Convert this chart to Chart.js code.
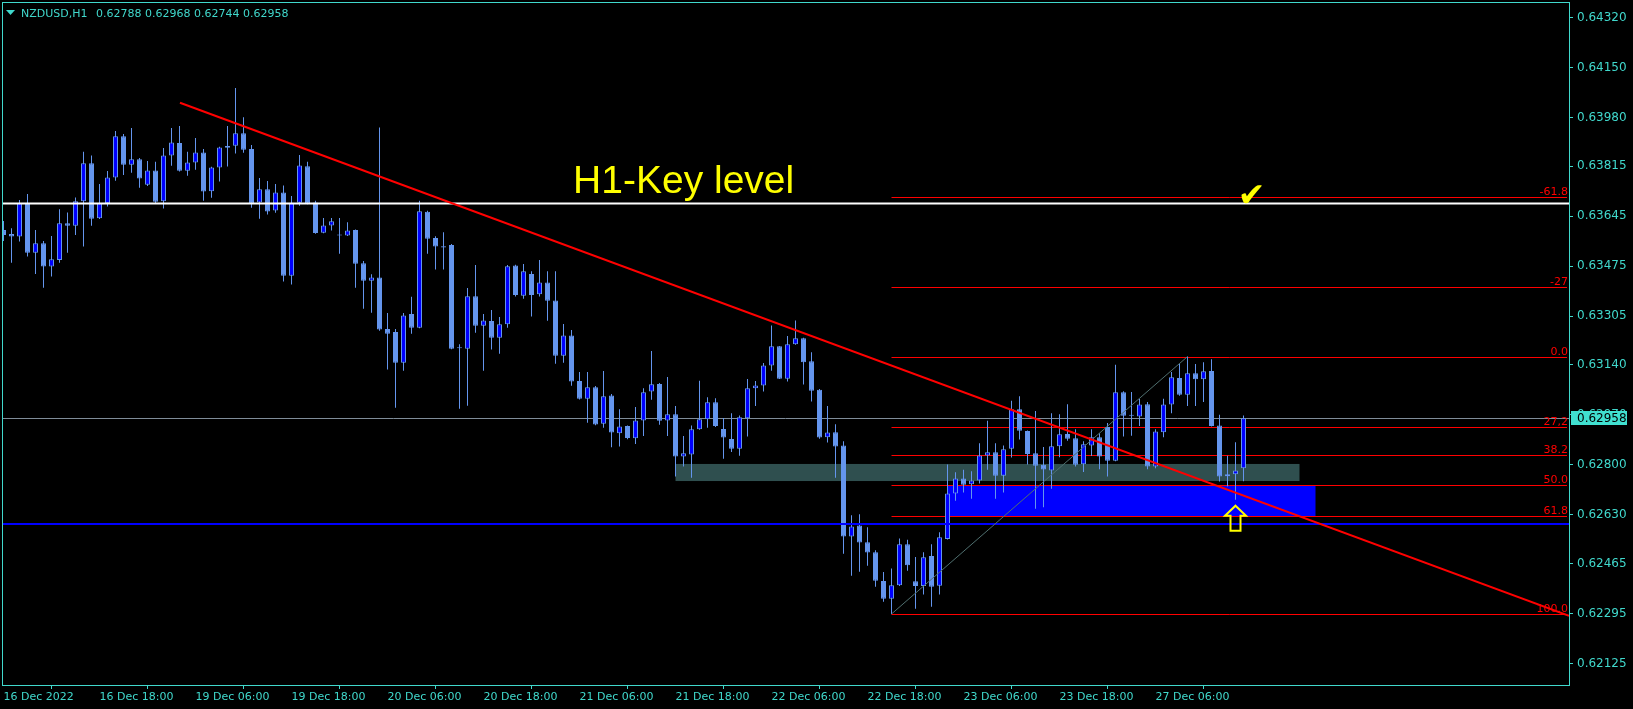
<!DOCTYPE html>
<html>
<head>
<meta charset="utf-8">
<style>
  html, body { margin: 0; padding: 0; background: #000; }
</style>
<script src="https://cdn.jsdelivr.net/npm/chart.js@4.4.0/dist/chart.umd.min.js"></script>
</head>
<body>
<canvas id="priceChart" width="1633" height="709"></canvas>
<script>
// NZDUSD H1 candles, bar 0 = 16 Dec 06:00
const opens = [
  0.63598, 0.63585, 0.63576, 0.63687, 0.63521, 0.63553, 0.63474, 0.63496, 0.63621, 0.63613,
  0.63696, 0.63825, 0.63638, 0.63689, 0.63777, 0.63917, 0.63820, 0.63839, 0.63752, 0.63801,
  0.63696, 0.63852, 0.63894, 0.63800, 0.63828, 0.63862, 0.63730, 0.63811, 0.63884, 0.63885,
  0.63927, 0.63874, 0.63692, 0.63737, 0.63665, 0.63726, 0.63443, 0.63691, 0.63815, 0.63692,
  0.63589, 0.63614, 0.63580, 0.63580, 0.63598, 0.63485, 0.63426, 0.63437, 0.63262, 0.63252,
  0.63147, 0.63313, 0.63266, 0.63660, 0.63571, 0.63543, 0.63547, 0.63196, 0.63195, 0.63373,
  0.63273, 0.63289, 0.63232, 0.63278, 0.63478, 0.63375, 0.63449, 0.63380, 0.63420, 0.63359,
  0.63171, 0.63240, 0.63085, 0.63025, 0.63064, 0.62940, 0.63036, 0.62907, 0.62932, 0.62890,
  0.62951, 0.63049, 0.63075, 0.62951, 0.62972, 0.62828, 0.62835, 0.62921, 0.62955, 0.63013,
  0.62922, 0.62888, 0.62855, 0.62958, 0.63060, 0.63070, 0.63138, 0.63203, 0.63093, 0.63210,
  0.63230, 0.63152, 0.63055, 0.62894, 0.62911, 0.62866, 0.62556, 0.62594, 0.62537, 0.62503,
  0.62405, 0.62345, 0.62391, 0.62530, 0.62404, 0.62388, 0.62490, 0.62389, 0.62548, 0.62703,
  0.62754, 0.62734, 0.62747, 0.62832, 0.62843, 0.62763, 0.62855, 0.62989, 0.62915, 0.62839,
  0.62800, 0.62781, 0.62863, 0.62905, 0.62890, 0.62802, 0.62866, 0.62894, 0.62929, 0.62814,
  0.63047, 0.62967, 0.62964, 0.63006, 0.62794, 0.62911, 0.63005, 0.63095, 0.63038, 0.63111,
  0.63091, 0.63119, 0.62934, 0.62761, 0.62768, 0.62788
];
const highs = [
  0.63629, 0.63604, 0.63700, 0.63721, 0.63598, 0.63561, 0.63578, 0.63669, 0.63658, 0.63709,
  0.63864, 0.63852, 0.63755, 0.63799, 0.63935, 0.63925, 0.63945, 0.63843, 0.63833, 0.63830,
  0.63877, 0.63945, 0.63952, 0.63864, 0.63911, 0.63874, 0.63813, 0.63881, 0.63952, 0.64081,
  0.63982, 0.63887, 0.63775, 0.63765, 0.63755, 0.63750, 0.63714, 0.63853, 0.63830, 0.63698,
  0.63639, 0.63639, 0.63639, 0.63625, 0.63600, 0.63493, 0.63448, 0.63947, 0.63316, 0.63262,
  0.63316, 0.63371, 0.63698, 0.63664, 0.63577, 0.63591, 0.63551, 0.63210, 0.63401, 0.63479,
  0.63313, 0.63326, 0.63303, 0.63479, 0.63480, 0.63483, 0.63458, 0.63496, 0.63458, 0.63458,
  0.63279, 0.63258, 0.63116, 0.63116, 0.63068, 0.63119, 0.63041, 0.62989, 0.62934, 0.62997,
  0.63060, 0.63187, 0.63078, 0.63099, 0.63000, 0.62898, 0.62934, 0.63086, 0.63030, 0.63026,
  0.62959, 0.62975, 0.62968, 0.63092, 0.63085, 0.63146, 0.63274, 0.63204, 0.63238, 0.63291,
  0.63232, 0.63183, 0.63058, 0.63000, 0.62938, 0.62880, 0.62629, 0.62632, 0.62588, 0.62510,
  0.62436, 0.62448, 0.62550, 0.62545, 0.62487, 0.62503, 0.62530, 0.62571, 0.62801, 0.62775,
  0.62783, 0.62778, 0.62873, 0.62950, 0.62873, 0.62866, 0.63018, 0.63033, 0.62917, 0.62983,
  0.62861, 0.62975, 0.62972, 0.63006, 0.62921, 0.62880, 0.62921, 0.62907, 0.62942, 0.63140,
  0.63050, 0.63048, 0.63024, 0.63014, 0.62921, 0.63025, 0.63116, 0.63143, 0.63168, 0.63143,
  0.63149, 0.63159, 0.62970, 0.62831, 0.62877, 0.62968
];
const lows = [
  0.63561, 0.63487, 0.63559, 0.63508, 0.63449, 0.63402, 0.63440, 0.63487, 0.63521, 0.63581,
  0.63542, 0.63613, 0.63636, 0.63678, 0.63766, 0.63785, 0.63793, 0.63742, 0.63748, 0.63688,
  0.63671, 0.63817, 0.63797, 0.63783, 0.63803, 0.63698, 0.63708, 0.63763, 0.63814, 0.63858,
  0.63861, 0.63674, 0.63637, 0.63651, 0.63657, 0.63423, 0.63413, 0.63681, 0.63686, 0.63586,
  0.63587, 0.63597, 0.63518, 0.63578, 0.63402, 0.63331, 0.63317, 0.63256, 0.63124, 0.62994,
  0.63120, 0.63246, 0.63264, 0.63518, 0.63464, 0.63464, 0.63193, 0.62991, 0.63001, 0.63249,
  0.63120, 0.63192, 0.63178, 0.63266, 0.63372, 0.63365, 0.63304, 0.63372, 0.63290, 0.63144,
  0.63147, 0.63069, 0.63022, 0.62943, 0.62935, 0.62926, 0.62860, 0.62862, 0.62887, 0.62871,
  0.62898, 0.63021, 0.62936, 0.62898, 0.62760, 0.62794, 0.62756, 0.62919, 0.62926, 0.62929,
  0.62821, 0.62844, 0.62831, 0.62896, 0.63000, 0.63049, 0.63120, 0.63092, 0.63083, 0.63208,
  0.63073, 0.63015, 0.62889, 0.62876, 0.62756, 0.62498, 0.62423, 0.62437, 0.62457, 0.62386,
  0.62335, 0.62293, 0.62388, 0.62440, 0.62311, 0.62359, 0.62318, 0.62359, 0.62546, 0.62678,
  0.62706, 0.62685, 0.62737, 0.62783, 0.62685, 0.62706, 0.62825, 0.62886, 0.62801, 0.62651,
  0.62656, 0.62719, 0.62826, 0.62882, 0.62794, 0.62776, 0.62830, 0.62785, 0.62760, 0.62812,
  0.62896, 0.62899, 0.62932, 0.62785, 0.62788, 0.62894, 0.62975, 0.63035, 0.63000, 0.63000,
  0.63014, 0.62930, 0.62743, 0.62726, 0.62681, 0.62744
];
const closes = [
  0.63581, 0.63576, 0.63689, 0.63521, 0.63553, 0.63474, 0.63499, 0.63621, 0.63613, 0.63696,
  0.63825, 0.63637, 0.63689, 0.63777, 0.63917, 0.63820, 0.63839, 0.63773, 0.63801, 0.63694,
  0.63852, 0.63896, 0.63800, 0.63828, 0.63862, 0.63729, 0.63811, 0.63879, 0.63878, 0.63927,
  0.63871, 0.63689, 0.63737, 0.63661, 0.63726, 0.63443, 0.63691, 0.63818, 0.63689, 0.63588,
  0.63614, 0.63628, 0.63580, 0.63597, 0.63484, 0.63426, 0.63437, 0.63260, 0.63246, 0.63147,
  0.63308, 0.63266, 0.63662, 0.63569, 0.63542, 0.63539, 0.63195, 0.63196, 0.63373, 0.63273,
  0.63291, 0.63232, 0.63278, 0.63475, 0.63377, 0.63458, 0.63377, 0.63420, 0.63358, 0.63171,
  0.63240, 0.63083, 0.63025, 0.63064, 0.62937, 0.63033, 0.62910, 0.62930, 0.62891, 0.62951,
  0.63047, 0.63074, 0.62950, 0.62972, 0.62828, 0.62839, 0.62921, 0.62955, 0.63013, 0.62932,
  0.62893, 0.62855, 0.62962, 0.63060, 0.63070, 0.63138, 0.63203, 0.63093, 0.63210, 0.63230,
  0.63149, 0.63052, 0.62893, 0.62910, 0.62862, 0.62556, 0.62590, 0.62536, 0.62502, 0.62406,
  0.62345, 0.62391, 0.62530, 0.62459, 0.62388, 0.62486, 0.62386, 0.62554, 0.62703, 0.62754,
  0.62732, 0.62747, 0.62832, 0.62843, 0.62763, 0.62853, 0.62989, 0.62916, 0.62837, 0.62797,
  0.62784, 0.62863, 0.62904, 0.62889, 0.62800, 0.62870, 0.62894, 0.62828, 0.62814, 0.63047,
  0.62967, 0.62967, 0.63005, 0.62794, 0.62913, 0.63005, 0.63098, 0.63038, 0.63111, 0.63091,
  0.63118, 0.62932, 0.62760, 0.62768, 0.62781, 0.62958
];

const timeTickBars = [0, 12, 24, 36, 48, 60, 72, 84, 96, 108, 120, 132, 144];
const timeLabels = ['16 Dec 2022', '16 Dec 18:00', '19 Dec 06:00', '19 Dec 18:00', '20 Dec 06:00',
  '20 Dec 18:00', '21 Dec 06:00', '21 Dec 18:00', '22 Dec 06:00', '22 Dec 18:00',
  '23 Dec 06:00', '23 Dec 18:00', '27 Dec 06:00'];
const priceTicks = [0.64320, 0.64150, 0.63980, 0.63815, 0.63645, 0.63475, 0.63305,
  0.63140, 0.62970, 0.62800, 0.62630, 0.62465, 0.62295, 0.62125];

const symbolName = 'NZDUSD,H1';
const lastBar = ['0.62788', '0.62968', '0.62744', '0.62958'];
const bidPrice = 0.62958;

// drawn objects
const keyLevel = 0.63688;
const lowerLevel = 0.62599;
const trendBars = [22.06, 195.69];
const trendPrices = [0.64031, 0.62287];
const fibBars = [111, 148];
const fibPrices = [0.62293, 0.63168];
const fibLevels = [0.63709, 0.63406, 0.63168, 0.62930, 0.62834, 0.62731, 0.62627, 0.62293];
const fibNames = ['-61.8', '-27', '0.0', '27,2', '38.2', '50.0', '61.8', '100.0'];
const zoneStart = [84, 118];
const zoneEnd = [162, 164];
const zoneHigh = [0.62803, 0.62729];
const zoneLow = [0.62745, 0.62626];
const keyText = 'H1-Key level';
const keyTextAt = { bar: 71.2, price: 0.63724 };
const arrowAt = { bar: 154, price: 0.62661 };
const checkAt = { bar: 156.0, price: 0.63710 };

const X_MIN = -0.1875, X_MAX = 195.6875;
const Y_MIN = 0.620516, Y_MAX = 0.643734;

const teal = '#40d8cc';
const bullFill = '#0000ff';
const bearFill = '#6495ed';
const zoneColors = ['#2f4f4f', '#0000ff'];

Chart.defaults.font.family = '"DejaVu Sans", sans-serif';
Chart.defaults.font.size = 11;

function hLine(price, color, width, x0, x1, order) {
  return {
    type: 'line',
    data: [{ x: x0, y: price }, { x: x1, y: price }],
    borderColor: color,
    borderWidth: width,
    pointRadius: 0,
    order: order
  };
}

const datasets = [
  {
    type: 'line',
    data: trendBars.map((b, i) => ({ x: b, y: trendPrices[i] })),
    borderColor: '#ff0000', borderWidth: 2, pointRadius: 0, order: 0
  },
  {
    type: 'line',
    data: fibBars.map((b, i) => ({ x: b, y: fibPrices[i] })),
    borderColor: '#4f6f6f', borderWidth: 1, pointRadius: 0, order: 1
  },
  hLine(keyLevel, '#ffffff', 2, X_MIN, X_MAX, 1),
  hLine(lowerLevel, '#0000ff', 2, X_MIN, X_MAX, 1),
  {
    type: 'bar',
    data: opens.map((o, i) => ({ x: i, y: [o, closes[i]] })),
    backgroundColor: opens.map((o, i) => closes[i] > o ? bullFill : bearFill),
    borderColor: bearFill,
    borderWidth: 1,
    borderSkipped: false,
    barThickness: 5,
    minBarLength: 1,
    inflateAmount: 0,
    grouped: false,
    order: 5
  },
  {
    type: 'bar',
    data: highs.map((h, i) => ({ x: i, y: [lows[i], h] })),
    backgroundColor: bearFill,
    borderWidth: 0,
    barThickness: 1,
    inflateAmount: 0,
    grouped: false,
    order: 6
  }
];

// thin 1px horizontals, snapped to the pixel grid so they stay crisp
function crispHLine(ctx, y, x0, x1, color) {
  const py = Math.round(y) + 0.5;
  ctx.strokeStyle = color;
  ctx.lineWidth = 1;
  ctx.beginPath();
  ctx.moveTo(x0, py);
  ctx.lineTo(x1, py);
  ctx.stroke();
}

const overlay = {
  id: 'overlay',
  beforeDraw(chart) {
    const ctx = chart.ctx;
    ctx.save();
    ctx.fillStyle = '#000';
    ctx.fillRect(0, 0, chart.width, chart.height);
    ctx.restore();
  },
  beforeDatasetsDraw(chart) {
    const { ctx, chartArea: a, scales: { x, y } } = chart;
    ctx.save();
    ctx.beginPath();
    ctx.rect(a.left, a.top, a.right - a.left, a.bottom - a.top);
    ctx.clip();
    zoneStart.forEach((s, i) => {
      const x0 = x.getPixelForValue(s), x1 = x.getPixelForValue(zoneEnd[i]);
      const y0 = y.getPixelForValue(zoneHigh[i]), y1 = y.getPixelForValue(zoneLow[i]);
      ctx.fillStyle = zoneColors[i];
      ctx.fillRect(x0, y0, x1 - x0, y1 - y0);
    });
    crispHLine(ctx, y.getPixelForValue(bidPrice), a.left, a.right, '#7f8c99');
    const fx = x.getPixelForValue(fibBars[0]);
    fibLevels.forEach(lv => crispHLine(ctx, y.getPixelForValue(lv), fx, a.right - 2, '#ff0000'));
    ctx.restore();
  },
  afterDatasetsDraw(chart) {
    const { ctx, chartArea: a, scales: { x, y } } = chart;
    ctx.save();
    // fibo level captions
    ctx.font = '11px "DejaVu Sans"';
    ctx.fillStyle = '#ff0000';
    ctx.textAlign = 'right';
    ctx.textBaseline = 'alphabetic';
    fibLevels.forEach((lv, i) => {
      ctx.fillText(fibNames[i], a.right - 1, Math.round(y.getPixelForValue(lv)) - 2);
    });

    // key level text
    ctx.font = '39px "Liberation Sans", Arial, sans-serif';
    ctx.fillStyle = '#ffff00';
    ctx.textAlign = 'left';
    ctx.fillText(keyText, x.getPixelForValue(keyTextAt.bar), y.getPixelForValue(keyTextAt.price));

    // up arrow (hollow)
    const ax = x.getPixelForValue(arrowAt.bar), ay = y.getPixelForValue(arrowAt.price);
    ctx.beginPath();
    ctx.moveTo(ax, ay);
    ctx.lineTo(ax + 10.5, ay + 10);
    ctx.lineTo(ax + 5, ay + 10);
    ctx.lineTo(ax + 5, ay + 25);
    ctx.lineTo(ax - 5, ay + 25);
    ctx.lineTo(ax - 5, ay + 10);
    ctx.lineTo(ax - 10.5, ay + 10);
    ctx.closePath();
    ctx.strokeStyle = '#ffff00';
    ctx.lineWidth = 2;
    ctx.stroke();

    // check mark
    ctx.font = '33px "DejaVu Sans"';
    ctx.textAlign = 'center';
    ctx.textBaseline = 'middle';
    ctx.fillStyle = '#ffff00';
    ctx.fillText('\u2714', x.getPixelForValue(checkAt.bar), y.getPixelForValue(checkAt.price));
    ctx.restore();
  },
  afterDraw(chart) {
    const { ctx, chartArea: a, scales: { y } } = chart;
    ctx.save();
    ctx.strokeStyle = teal;
    ctx.lineWidth = 1;
    ctx.strokeRect(a.left + 0.5, a.top + 0.5, a.right - a.left, a.bottom - a.top);

    // header
    ctx.fillStyle = teal;
    ctx.beginPath();
    ctx.moveTo(6, 10);
    ctx.lineTo(15, 10);
    ctx.lineTo(10.5, 15);
    ctx.closePath();
    ctx.fill();
    ctx.font = '11px "DejaVu Sans"';
    ctx.textAlign = 'left';
    ctx.textBaseline = 'alphabetic';
    ctx.fillText(symbolName, 21, 17);
    ctx.fillText(lastBar.join(' '), 96, 17);

    // bid price box
    const by = Math.round(y.getPixelForValue(bidPrice));
    ctx.fillStyle = '#40e0d0';
    ctx.fillRect(a.right + 2, by - 7, 56, 14);
    ctx.fillStyle = '#000';
    ctx.font = '12px "DejaVu Sans"';
    ctx.textBaseline = 'middle';
    ctx.fillText(bidPrice.toFixed(5), a.right + 8, by + 0.5);
    ctx.restore();
  }
};

new Chart(document.getElementById('priceChart'), {
  type: 'bar',
  data: { datasets: datasets },
  options: {
    responsive: false,
    animation: false,
    layout: { padding: { left: 2, top: 2, right: 0, bottom: 0 } },
    plugins: { legend: { display: false }, tooltip: { enabled: false } },
    scales: {
      x: {
        type: 'linear',
        position: 'bottom',
        min: X_MIN,
        max: X_MAX,
        offset: false,
        afterBuildTicks: s => { s.ticks = timeTickBars.map(v => ({ value: v })); },
        afterFit: s => { s.height = 24; s.paddingLeft = 0; s.paddingRight = 0; },
        grid: { drawOnChartArea: false, drawTicks: true, tickLength: 4, color: teal },
        border: { display: false },
        ticks: {
          color: teal, autoSkip: false, maxRotation: 0, align: 'start', padding: 2,
          callback: (v, i) => timeLabels[i]
        }
      },
      y: {
        type: 'linear',
        position: 'right',
        min: Y_MIN,
        max: Y_MAX,
        afterBuildTicks: s => { s.ticks = priceTicks.map(v => ({ value: v })); },
        afterFit: s => { s.width = 64; s.paddingTop = 0; s.paddingBottom = 0; },
        grid: { drawOnChartArea: false, drawTicks: true, tickLength: 4, color: teal },
        border: { display: false },
        ticks: { color: teal, padding: 4, font: { size: 12 }, callback: v => v.toFixed(5) }
      }
    }
  },
  plugins: [overlay]
});
</script>
</body>
</html>
